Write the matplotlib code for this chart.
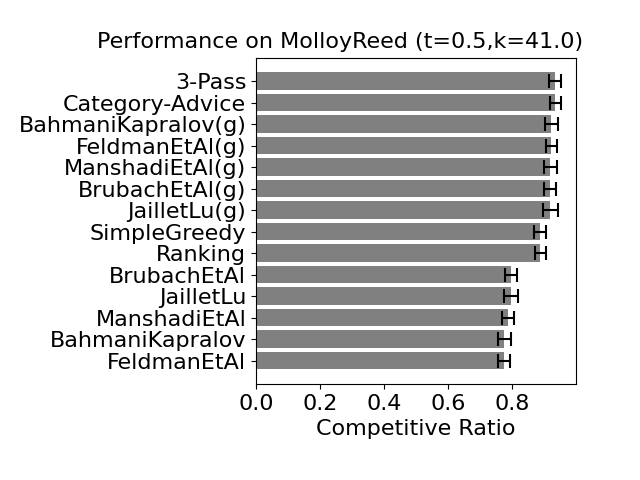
import matplotlib
matplotlib.use('Agg')
import matplotlib.pyplot as plt

# Algorithms, bottom to top
algorithms = ['FeldmanEtAl', 'BahmaniKapralov', 'ManshadiEtAl', 'JailletLu',
              'BrubachEtAl', 'Ranking', 'SimpleGreedy', 'JailletLu(g)',
              'BrubachEtAl(g)', 'ManshadiEtAl(g)', 'FeldmanEtAl(g)',
              'BahmaniKapralov(g)', 'Category-Advice', '3-Pass']
ratios = [0.775, 0.775, 0.786, 0.796, 0.796, 0.8875, 0.8875, 0.919,
          0.919, 0.919, 0.922, 0.922, 0.935, 0.934]
errors = [0.019, 0.020, 0.019, 0.021, 0.020, 0.017, 0.019, 0.023,
          0.019, 0.021, 0.018, 0.020, 0.018, 0.018]

plt.rcParams['font.size'] = 16
fig = plt.figure(figsize=(6.4, 4.8), dpi=100)
ax = fig.add_subplot(111)
fig.subplots_adjust(left=0.4, bottom=0.2, right=0.9, top=0.88)

ax.barh(range(len(algorithms)), ratios, xerr=errors, color='gray',
        capsize=5, error_kw={'elinewidth': 1.5, 'capthick': 1.5})
ax.set_yticks(range(len(algorithms)))
ax.set_yticklabels(algorithms)
ax.set_xlim(0, 0.999)
ax.set_xticks([0.0, 0.2, 0.4, 0.6, 0.8])
ax.set_xlabel('Competitive Ratio')
fig.text(0.531, 0.912, 'Performance on MolloyReed (t=0.5,k=41.0)',
         fontsize=16, ha='center', va='center')

plt.savefig('out.png')
